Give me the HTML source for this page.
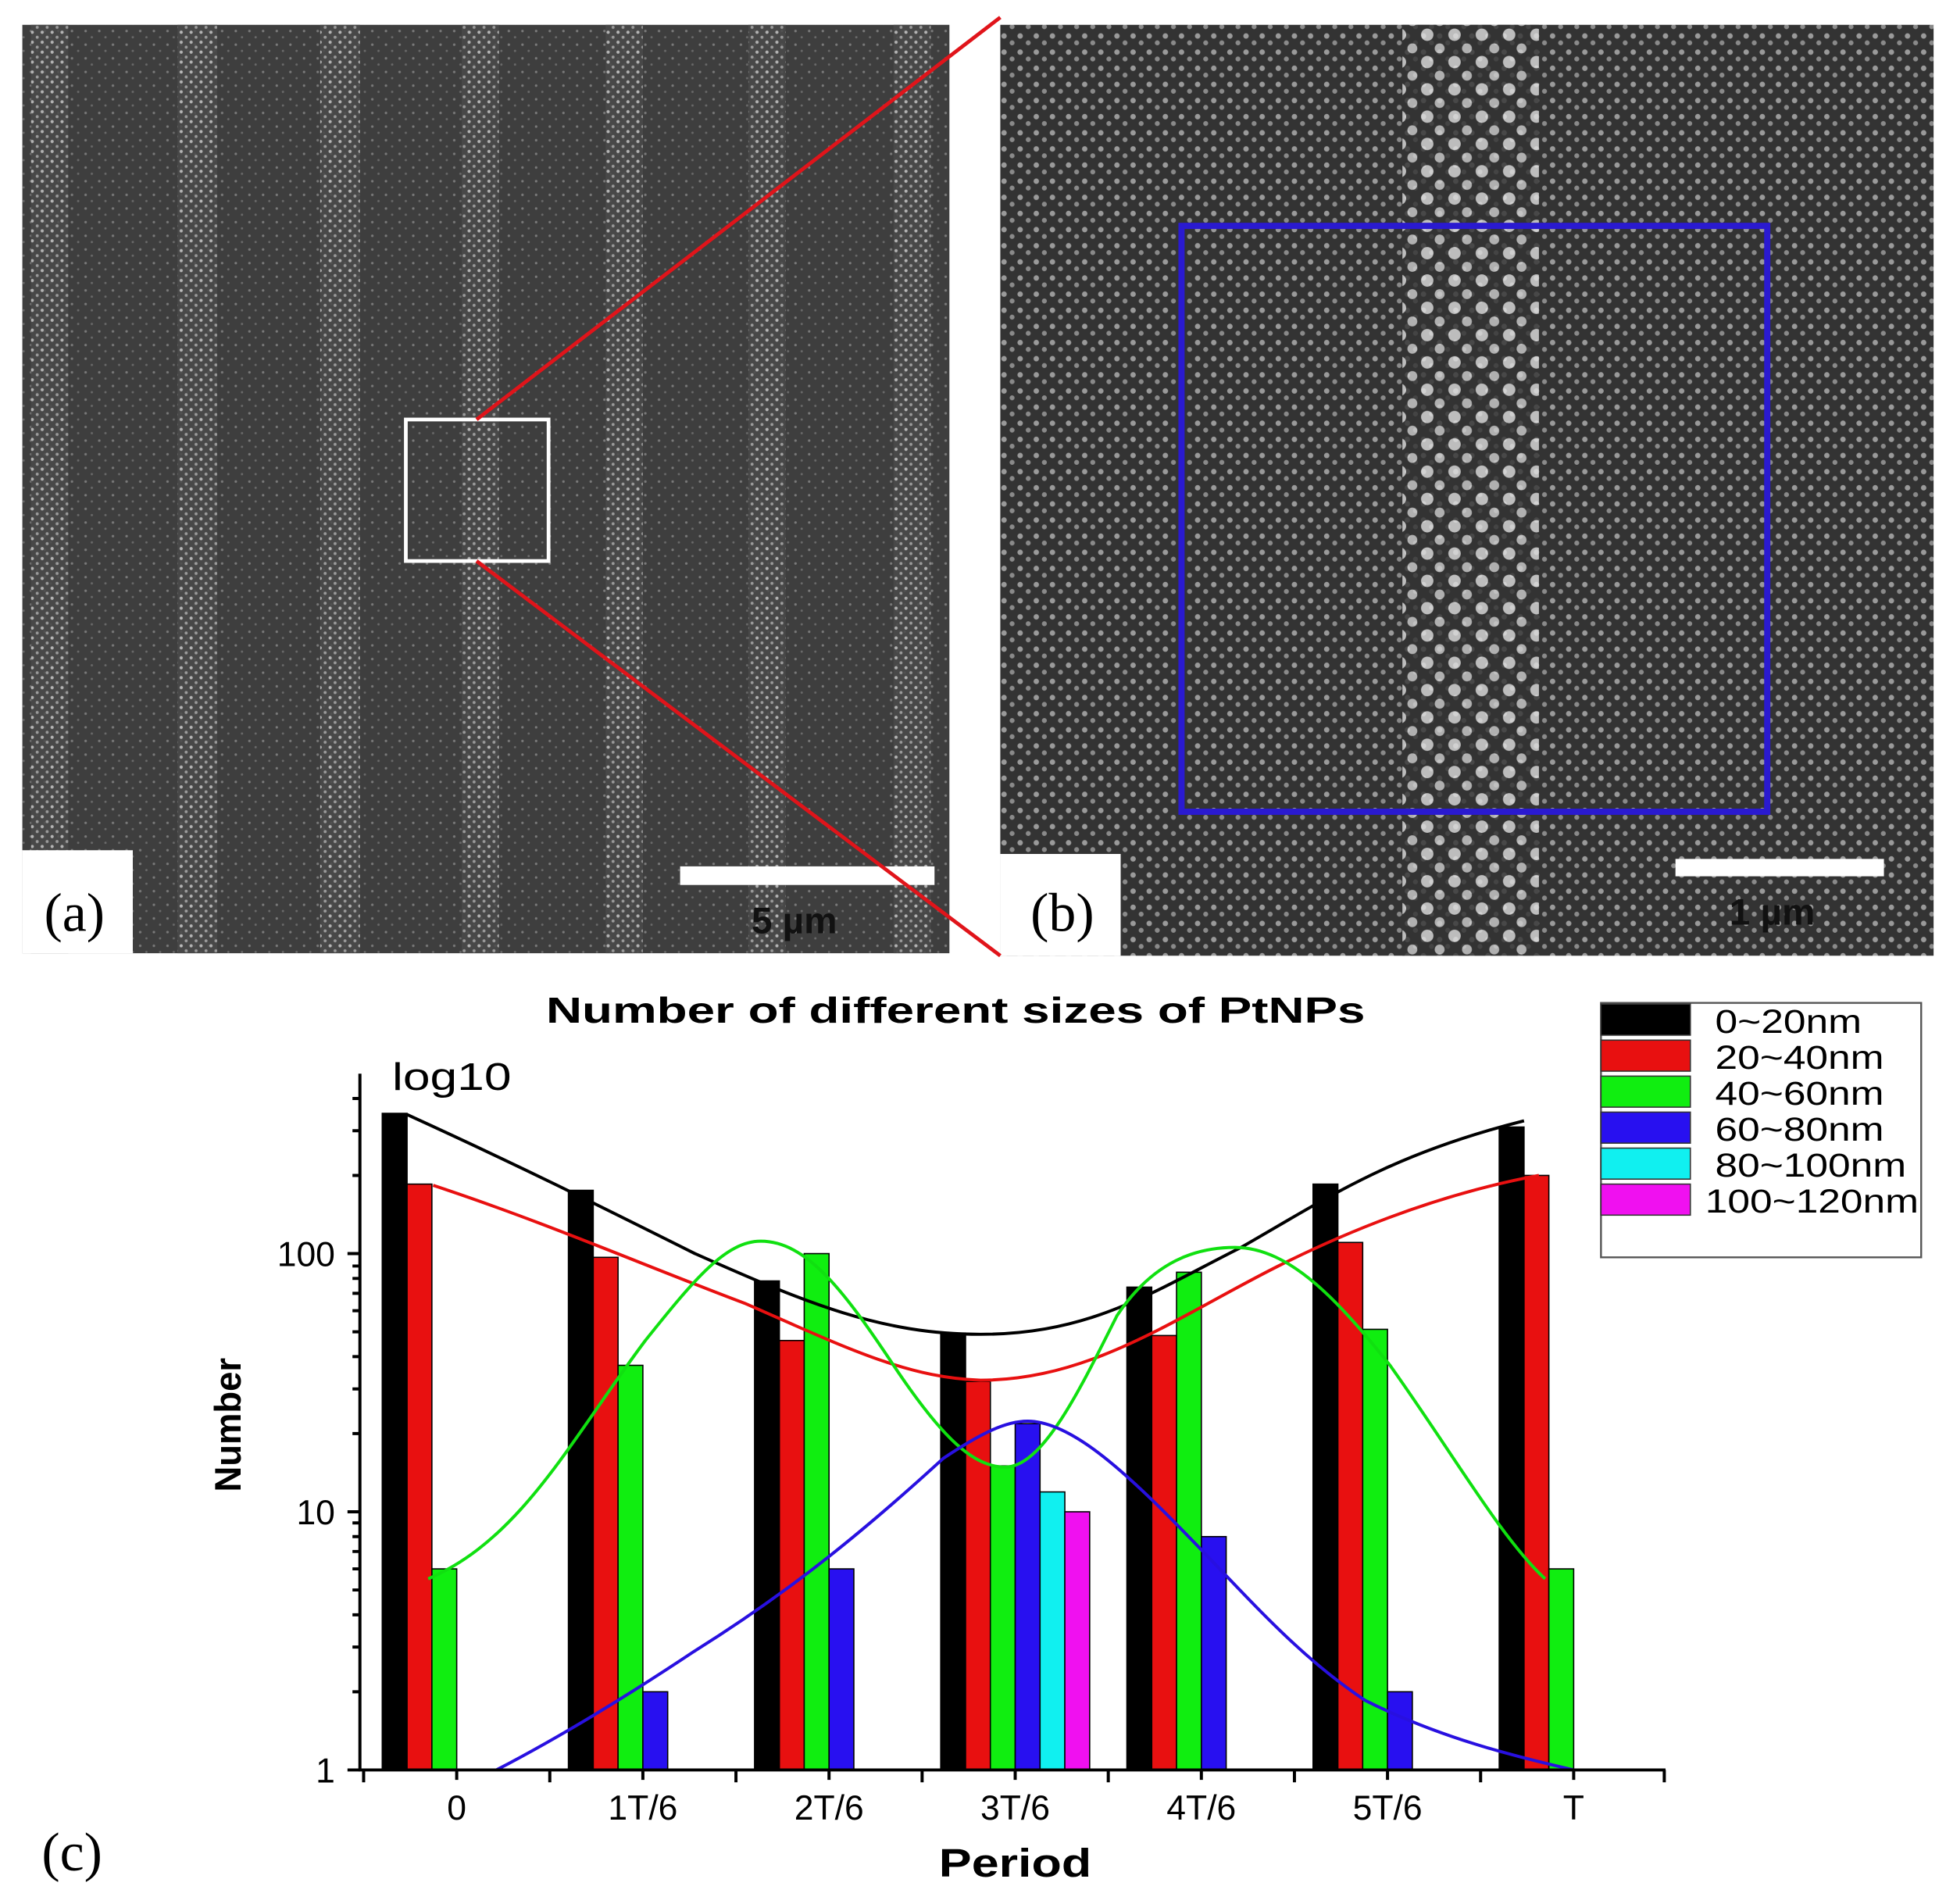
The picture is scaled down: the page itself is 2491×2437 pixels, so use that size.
<!DOCTYPE html>
<html><head><meta charset="utf-8"><style>html,body{margin:0;padding:0;background:#fff}svg{display:block}</style></head>
<body>
<svg width="2491" height="2437" viewBox="0 0 1568 1534" preserveAspectRatio="none" xmlns="http://www.w3.org/2000/svg" font-family="Liberation Sans, sans-serif">
<defs>
<pattern id="dBg" width="11" height="11" patternUnits="userSpaceOnUse"><rect width="11" height="11" fill="#3e3e3e"/><circle cx="3" cy="3" r="1" fill="#7a7a7a"/><circle cx="8" cy="8" r="0.9" fill="#6a6a6a"/></pattern>
<pattern id="dA" width="8" height="8" patternUnits="userSpaceOnUse"><rect width="8" height="8" fill="#4a4a4a"/><circle cx="2" cy="2" r="1.3" fill="#c8c8c8"/><circle cx="6" cy="6" r="1.2" fill="#aaa"/></pattern>
<pattern id="dB" width="13" height="13" patternUnits="userSpaceOnUse"><rect width="13" height="13" fill="#333"/><circle cx="3" cy="3" r="2.2" fill="#9a9a9a"/><circle cx="9.5" cy="8.5" r="2" fill="#8a8a8a"/></pattern>
<pattern id="dC" width="22" height="22" patternUnits="userSpaceOnUse"><rect width="22" height="22" fill="#333"/><circle cx="6" cy="6" r="5" fill="#e0e0e0"/><circle cx="16" cy="17" r="4" fill="#cfcfcf"/></pattern>
</defs>
<!-- panel a -->
<rect x="18" y="20" width="747" height="748" fill="url(#dBg)"/>
<g fill="url(#dA)" opacity="0.85">
<rect x="25" y="20" width="30" height="748"/><rect x="143" y="20" width="32" height="748"/><rect x="258" y="20" width="32" height="748"/><rect x="372" y="20" width="30" height="748"/><rect x="488" y="20" width="30" height="748"/><rect x="603" y="20" width="30" height="748"/><rect x="720" y="20" width="30" height="748"/>
</g>
<rect x="327" y="338" width="115" height="114" fill="none" stroke="#fff" stroke-width="3"/>
<rect x="18" y="685" width="89" height="83" fill="#fff"/>
<text x="60" y="750" font-family="Liberation Serif, serif" font-size="44" text-anchor="middle">(a)</text>
<rect x="548" y="698" width="205" height="15" fill="#fff"/>
<text x="640" y="752" font-size="30" font-weight="bold" text-anchor="middle" fill="#111">5 µm</text>
<!-- panel b -->
<rect x="806" y="20" width="752" height="750" fill="url(#dB)"/>
<rect x="1130" y="20" width="110" height="750" fill="url(#dC)" opacity="0.8"/>
<rect x="952" y="182" width="472" height="472" fill="none" stroke="#2a1ad0" stroke-width="5"/>
<rect x="806" y="688" width="97" height="82" fill="#fff"/>
<text x="856" y="750" font-family="Liberation Serif, serif" font-size="44" text-anchor="middle">(b)</text>
<rect x="1350" y="692" width="168" height="14" fill="#fff"/>
<text x="1428" y="745" font-size="30" font-weight="bold" text-anchor="middle" fill="#111">1 µm</text>
<line x1="384" y1="338" x2="806" y2="14" stroke="#e0141a" stroke-width="3"/>
<line x1="384" y1="452" x2="806" y2="770" stroke="#e0141a" stroke-width="3"/>
<!-- chart -->
<text x="770" y="824" font-size="29" font-weight="bold" text-anchor="middle" textLength="660" lengthAdjust="spacingAndGlyphs">Number of different sizes of PtNPs</text>
<text x="316" y="878" font-size="31" textLength="96" lengthAdjust="spacingAndGlyphs">log10</text>
<g stroke="#000" stroke-width="1">
<rect x="308" y="897" width="20" height="529" fill="#000"/><rect x="328" y="954" width="20" height="472" fill="#e81010"/><rect x="348" y="1264" width="20" height="162" fill="#10ee10"/>
<rect x="458" y="959" width="20" height="467" fill="#000"/><rect x="478" y="1013" width="20" height="413" fill="#e81010"/><rect x="498" y="1100" width="20" height="326" fill="#10ee10"/><rect x="518" y="1363" width="20" height="63" fill="#2810f0"/>
<rect x="608" y="1032" width="20" height="394" fill="#000"/><rect x="628" y="1080" width="20" height="346" fill="#e81010"/><rect x="648" y="1010" width="20" height="416" fill="#10ee10"/><rect x="668" y="1264" width="20" height="162" fill="#2810f0"/>
<rect x="758" y="1074" width="20" height="352" fill="#000"/><rect x="778" y="1113" width="20" height="313" fill="#e81010"/><rect x="798" y="1181" width="20" height="245" fill="#10ee10"/><rect x="818" y="1147" width="20" height="279" fill="#2810f0"/><rect x="838" y="1202" width="20" height="224" fill="#10f0f0"/><rect x="858" y="1218" width="20" height="208" fill="#f010f0"/>
<rect x="908" y="1037" width="20" height="389" fill="#000"/><rect x="928" y="1076" width="20" height="350" fill="#e81010"/><rect x="948" y="1025" width="20" height="401" fill="#10ee10"/><rect x="968" y="1238" width="20" height="188" fill="#2810f0"/>
<rect x="1058" y="954" width="20" height="472" fill="#000"/><rect x="1078" y="1001" width="20" height="425" fill="#e81010"/><rect x="1098" y="1071" width="20" height="355" fill="#10ee10"/><rect x="1118" y="1363" width="20" height="63" fill="#2810f0"/>
<rect x="1208" y="908" width="20" height="518" fill="#000"/><rect x="1228" y="947" width="20" height="479" fill="#e81010"/><rect x="1248" y="1264" width="20" height="162" fill="#10ee10"/>
</g>
<g fill="none" stroke-width="2.5">
<path d="M328,898 C420,940 480,970 560,1010 C650,1050 710,1075 790,1075 C880,1075 930,1040 1000,1005 C1070,965 1120,930 1228,903" stroke="#000"/>
<path d="M349,955 C440,985 520,1020 600,1050 C680,1085 730,1110 790,1112 C880,1112 950,1060 1030,1020 C1100,985 1170,960 1240,947" stroke="#e81010"/>
<path d="M345,1272 C420,1240 460,1160 520,1080 C560,1030 585,1000 613,1000 C650,1000 680,1040 720,1100 C760,1160 785,1182 810,1182 C840,1182 870,1120 900,1060 C930,1015 965,1005 995,1005 C1040,1005 1080,1050 1120,1100 C1170,1170 1210,1240 1245,1272" stroke="#10e010"/>
<path d="M400,1426 C450,1400 500,1370 560,1330 C640,1280 700,1230 760,1175 C790,1155 810,1145 828,1145 C860,1145 900,1180 940,1220 C1000,1280 1040,1330 1100,1370 C1160,1400 1220,1415 1268,1426" stroke="#2810e0"/>
</g>
<g stroke="#000" stroke-width="2.5" fill="none">
<line x1="290" y1="865" x2="290" y2="1427"/>
<line x1="289" y1="1426" x2="1342" y2="1426"/>
<line x1="280" y1="1426" x2="290" y2="1426"/><line x1="280" y1="1218" x2="290" y2="1218"/><line x1="280" y1="1010" x2="290" y2="1010"/>
<path d="M284,1363H290M284,1327H290M284,1301H290M284,1281H290M284,1264H290M284,1250H290M284,1238H290M284,1227H290M284,1155H290M284,1119H290M284,1093H290M284,1073H290M284,1056H290M284,1042H290M284,1030H290M284,1020H290M284,947H290M284,911H290M284,885H290"/>
<path d="M293,1426v10M443,1426v10M593,1426v10M743,1426v10M893,1426v10M1043,1426v10M1193,1426v10M1341,1426v10M368,1426v8M518,1426v8M668,1426v8M818,1426v8M968,1426v8M1118,1426v8M1268,1426v8"/>
</g>
<g font-size="28" text-anchor="end"><text x="270" y="1436">1</text><text x="270" y="1228">10</text><text x="270" y="1020">100</text></g>
<g font-size="28" text-anchor="middle"><text x="368" y="1466">0</text><text x="518" y="1466">1T/6</text><text x="668" y="1466">2T/6</text><text x="818" y="1466">3T/6</text><text x="968" y="1466">4T/6</text><text x="1118" y="1466">5T/6</text><text x="1268" y="1466">T</text></g>
<text x="818" y="1512" font-size="32" font-weight="bold" text-anchor="middle" textLength="123" lengthAdjust="spacingAndGlyphs">Period</text>
<text transform="translate(194,1148) rotate(-90)" font-size="30" font-weight="bold" text-anchor="middle" textLength="108" lengthAdjust="spacingAndGlyphs">Number</text>
<text x="58" y="1507" font-family="Liberation Serif, serif" font-size="44" text-anchor="middle">(c)</text>
<!-- legend -->
<rect x="1290" y="808" width="258" height="205" fill="#fff" stroke="#555" stroke-width="1.5"/>
<g stroke="#333" stroke-width="1">
<rect x="1290" y="809" width="72" height="25" fill="#000"/><rect x="1290" y="838" width="72" height="25" fill="#e81010"/><rect x="1290" y="867" width="72" height="25" fill="#10ee10"/><rect x="1290" y="896" width="72" height="25" fill="#2810f0"/><rect x="1290" y="925" width="72" height="25" fill="#10f0f0"/><rect x="1290" y="954" width="72" height="25" fill="#f010f0"/>
</g>
<g font-size="27"><text x="1382" y="832" textLength="118" lengthAdjust="spacingAndGlyphs">0~20nm</text><text x="1382" y="861" textLength="136" lengthAdjust="spacingAndGlyphs">20~40nm</text><text x="1382" y="890" textLength="136" lengthAdjust="spacingAndGlyphs">40~60nm</text><text x="1382" y="919" textLength="136" lengthAdjust="spacingAndGlyphs">60~80nm</text><text x="1382" y="948" textLength="154" lengthAdjust="spacingAndGlyphs">80~100nm</text><text x="1374" y="977" textLength="172" lengthAdjust="spacingAndGlyphs">100~120nm</text></g>
</svg>
</body></html>
